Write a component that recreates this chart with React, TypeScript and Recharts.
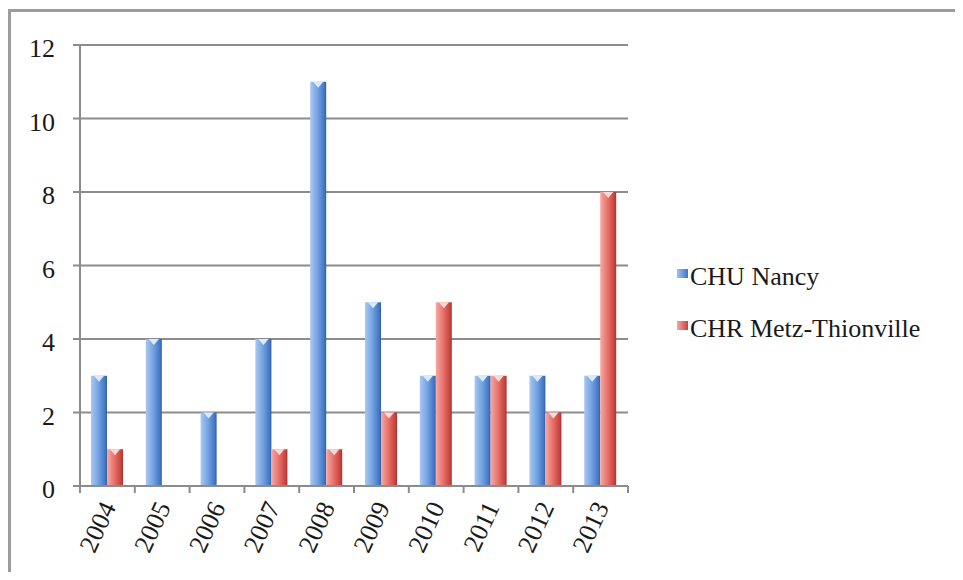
import React from 'react';
import { BarChart, Bar, XAxis, YAxis, CartesianGrid, Legend } from 'recharts';

const years = ['2004', '2005', '2006', '2007', '2008', '2009', '2010', '2011', '2012', '2013'];
const chuNancy = [3, 4, 2, 4, 11, 5, 3, 3, 3, 3];
const chrMetz = [1, 0, 0, 1, 1, 2, 5, 3, 2, 8];
const yTicks = [0, 2, 4, 6, 8, 10, 12];

const chartData = years.map((year, i) => ({
  year,
  nancy: chuNancy[i],
  metz: chrMetz[i],
}));

const FONT = '"Liberation Serif", "Times New Roman", serif';
const GRID = '#8c8c8c';
const LABEL_GAP = 21;

// tip colour is the little light chevron at the top of each bar
const makeShape = (tip: string) => (props: any) => {
  const { x, y, width, height, fill } = props;
  if (!height || height <= 0) return <g />;
  return (
    <g>
      <rect x={x} y={y} width={width} height={height} fill={fill} />
      <polygon
        points={`${x + width * 0.18},${y} ${x + width * 0.82},${y} ${x + width / 2},${y + 6}`}
        fill={tip}
      />
    </g>
  );
};

// category label plus the small tick marks that sit between categories
const XTick = (props: any) => {
  const { x, y, payload, width, visibleTicksCount, index } = props;
  const band = width / visibleTicksCount;
  const axisY = y - LABEL_GAP;
  const tx = x + 9;
  return (
    <g>
      <line x1={x - band / 2} y1={axisY} x2={x - band / 2} y2={axisY + 7} stroke={GRID} strokeWidth={2} />
      {index === visibleTicksCount - 1 && (
        <line x1={x + band / 2} y1={axisY} x2={x + band / 2} y2={axisY + 7} stroke={GRID} strokeWidth={2} />
      )}
      <text
        x={tx}
        y={y}
        textAnchor="end"
        fontSize={26}
        fontFamily={FONT}
        fill="#1a1a1a"
        transform={`rotate(-65, ${tx}, ${y})`}
      >
        {payload.value}
      </text>
    </g>
  );
};

const legendItems = [
  { name: 'CHU Nancy', bg: 'linear-gradient(to right, #9fc3f0, #3f74c6)' },
  { name: 'CHR Metz-Thionville', bg: 'linear-gradient(to right, #f5a8a3, #c9403b)' },
];

const renderLegend = () => (
  <div style={{ fontFamily: FONT, fontSize: 26, color: '#1a1a1a' }}>
    {legendItems.map((item) => (
      <div key={item.name} style={{ display: 'flex', alignItems: 'flex-start', height: 52, lineHeight: '30px' }}>
        <span style={{ width: 11, height: 9, marginTop: 7, marginRight: 2, background: item.bg, display: 'inline-block' }} />
        <span style={{ whiteSpace: 'nowrap' }}>{item.name}</span>
      </div>
    ))}
  </div>
);

export default function App() {
  return (
    <div style={{ position: 'relative', width: 963, height: 580, margin: -8, overflow: 'hidden', background: '#fff' }}>
      <div
        style={{
          position: 'absolute',
          left: 8,
          top: 9,
          width: 1000,
          height: 700,
          border: '3px solid #9c9c9c',
        }}
      />
      <div style={{ position: 'absolute', left: 0, top: 0 }}>
        <BarChart
          width={963}
          height={580}
          data={chartData}
          margin={{ top: 45, right: 335, bottom: 0, left: 20 }}
          barGap={0}
          barSize={16}
        >
          <defs>
            <linearGradient id="blueGrad" x1="0" y1="0" x2="1" y2="0">
              <stop offset="0%" stopColor="#a8c9f2" />
              <stop offset="45%" stopColor="#76a3e2" />
              <stop offset="88%" stopColor="#4277c6" />
              <stop offset="100%" stopColor="#325fa0" />
            </linearGradient>
            <linearGradient id="redGrad" x1="0" y1="0" x2="1" y2="0">
              <stop offset="0%" stopColor="#f6aaa5" />
              <stop offset="45%" stopColor="#e8726c" />
              <stop offset="88%" stopColor="#c9413c" />
              <stop offset="100%" stopColor="#a8332f" />
            </linearGradient>
          </defs>
          <CartesianGrid vertical={false} stroke={GRID} strokeWidth={2} />
          <XAxis
            dataKey="year"
            height={94}
            interval={0}
            tickSize={0}
            tickMargin={LABEL_GAP}
            tickLine={false}
            axisLine={{ stroke: GRID, strokeWidth: 2 }}
            tick={<XTick />}
          />
          <YAxis
            width={60}
            domain={[0, 12]}
            ticks={yTicks}
            interval={0}
            tickSize={7}
            tickMargin={18}
            axisLine={{ stroke: GRID, strokeWidth: 2 }}
            tickLine={{ stroke: GRID, strokeWidth: 2 }}
            tick={{ fontSize: 26, fontFamily: FONT, fill: '#1a1a1a', dy: 3 }}
          />
          <Legend
            layout="vertical"
            verticalAlign="middle"
            align="center"
            wrapperStyle={{ left: 677, top: 262, width: 280 }}
            content={renderLegend}
          />
          <Bar
            dataKey="nancy"
            name="CHU Nancy"
            fill="url(#blueGrad)"
            shape={makeShape('#d8ecfc')}
            isAnimationActive={false}
          />
          <Bar
            dataKey="metz"
            name="CHR Metz-Thionville"
            fill="url(#redGrad)"
            shape={makeShape('#fcd9d6')}
            isAnimationActive={false}
          />
        </BarChart>
      </div>
    </div>
  );
}
